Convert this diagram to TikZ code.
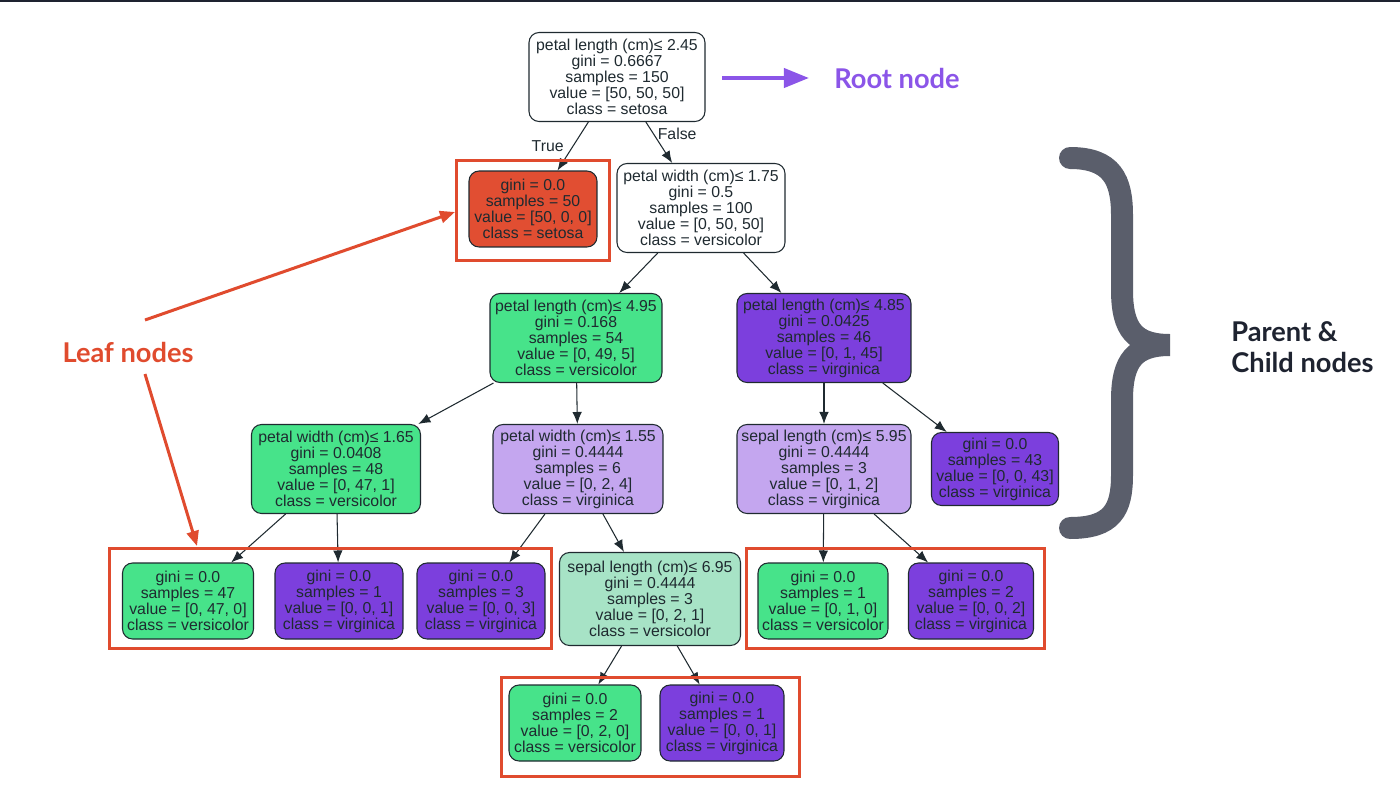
\documentclass[tikz,border=0pt]{standalone}
\usepackage{fontspec}
\usepackage{xcolor}
\usepackage{tikz}
\setmainfont{Liberation Sans}
\newfontfamily\annfont{Lato}
\usetikzlibrary{shapes,arrows,positioning,calc,arrows.meta}

\definecolor{edgec}{HTML}{1F2A30}
\definecolor{leafred}{HTML}{E04B2E}
\definecolor{rootpurple}{HTML}{8B55E8}
\definecolor{bracegray}{HTML}{5A5E6B}
\definecolor{darktxt}{HTML}{1E2330}
\definecolor{fsetosa}{HTML}{E14E32}
\definecolor{fgreen}{HTML}{47E38A}
\definecolor{fpurple}{HTML}{7C3FDD}
\definecolor{flpurple}{HTML}{C4A6EF}
\definecolor{flgreen}{HTML}{A7E3C6}

\tikzset{
    tnode/.style={draw=edgec, line width=0.6pt, rounded corners=0.2cm, align=center, inner sep=0pt, text=edgec, font=\fontsize{9}{9.1}\selectfont},
    split/.style={tnode, minimum height=1.78cm},
    leaf/.style={tnode, minimum height=1.52cm},
    edge/.style={draw=edgec, line width=0.6pt, -{Latex[length=0.24cm,width=0.19cm]}},
    elab/.style={font=\fontsize{9}{9.1}\selectfont, text=edgec, inner sep=2pt},
    redbox/.style={draw=leafred, line width=0.06cm},
    redarr/.style={draw=leafred, line width=0.06cm, -{Triangle[length=0.3cm,width=0.24cm]}},
    ann/.style={font=\annfont\bfseries\fontsize{15.5}{18}\selectfont, inner sep=0pt}
}

\begin{document}
\begin{tikzpicture}[x=0.02cm, y=-0.02cm]
    \useasboundingbox (0,0) rectangle (1400,788);
    \draw[darktxt, line width=0.03cm] (0,1) -- (1400,1);

    % Decision tree
    \node[split, fill=white, minimum width=3.52cm] (root) at (617,77) {petal length (cm)≤ 2.45\\gini = 0.6667\\samples = 150\\value = [50, 50, 50]\\class = setosa};
    \node[leaf, fill=fsetosa, minimum width=2.56cm] (setosa) at (533,209) {gini = 0.0\\samples = 50\\value = [50, 0, 0]\\class = setosa};
    \node[split, fill=white, minimum width=3.36cm] (pwa) at (701,208) {petal width (cm)≤ 1.75\\gini = 0.5\\samples = 100\\value = [0, 50, 50]\\class = versicolor};
    \node[split, fill=fgreen, minimum width=3.44cm] (pla) at (576,338) {petal length (cm)≤ 4.95\\gini = 0.168\\samples = 54\\value = [0, 49, 5]\\class = versicolor};
    \node[split, fill=fpurple, minimum width=3.48cm] (plb) at (824,338) {petal length (cm)≤ 4.85\\gini = 0.0425\\samples = 46\\value = [0, 1, 45]\\class = virginica};
    \node[split, fill=fgreen, minimum width=3.38cm] (pwb) at (336,469) {petal width (cm)≤ 1.65\\gini = 0.0408\\samples = 48\\value = [0, 47, 1]\\class = versicolor};
    \node[split, fill=flpurple, minimum width=3.40cm] (pwc) at (578,469) {petal width (cm)≤ 1.55\\gini = 0.4444\\samples = 6\\value = [0, 2, 4]\\class = virginica};
    \node[split, fill=flpurple, minimum width=3.48cm] (sla) at (824,469) {sepal length (cm)≤ 5.95\\gini = 0.4444\\samples = 3\\value = [0, 1, 2]\\class = virginica};
    \node[leaf, fill=fpurple, minimum width=2.54cm, minimum height=1.46cm] (lfg) at (995,469) {gini = 0.0\\samples = 43\\value = [0, 0, 43]\\class = virginica};
    \node[leaf, fill=fgreen, minimum width=2.62cm] (lfa) at (188,601) {gini = 0.0\\samples = 47\\value = [0, 47, 0]\\class = versicolor};
    \node[leaf, fill=fpurple, minimum width=2.56cm] (lfb) at (339,601) {gini = 0.0\\samples = 1\\value = [0, 0, 1]\\class = virginica};
    \node[leaf, fill=fpurple, minimum width=2.56cm] (lfc) at (481,601) {gini = 0.0\\samples = 3\\value = [0, 0, 3]\\class = virginica};
    \node[split, fill=flgreen, minimum width=3.62cm, minimum height=1.86cm] (slb) at (650,599) {sepal length (cm)≤ 6.95\\gini = 0.4444\\samples = 3\\value = [0, 2, 1]\\class = versicolor};
    \node[leaf, fill=fgreen, minimum width=2.60cm] (lfd) at (823,601) {gini = 0.0\\samples = 1\\value = [0, 1, 0]\\class = versicolor};
    \node[leaf, fill=fpurple, minimum width=2.50cm] (lfe) at (971,601) {gini = 0.0\\samples = 2\\value = [0, 0, 2]\\class = virginica};
    \node[leaf, fill=fgreen, minimum width=2.64cm] (lfh) at (575,723) {gini = 0.0\\samples = 2\\value = [0, 2, 0]\\class = versicolor};
    \node[leaf, fill=fpurple, minimum width=2.48cm] (lfi) at (722,723) {gini = 0.0\\samples = 1\\value = [0, 0, 1]\\class = virginica};

    % Edges
    \draw[edge] (root) -- node[left, elab, xshift=-3pt] (tlab) {True} (setosa);
    \draw[edge] (root) -- node[right, elab, pos=0.3] (flab) {False} (pwa);
    \draw[edge] (pwa) -- (pla);
    \draw[edge] (pwa) -- (plb);
    \draw[edge] (pla) -- (pwb);
    \draw[edge] (pla) -- (pwc);
    \draw[edge] (plb) -- (sla);
    \draw[edge] (plb) -- (lfg);
    \draw[edge] (pwb) -- (lfa);
    \draw[edge] (pwb) -- (lfb);
    \draw[edge] (pwc) -- (lfc);
    \draw[edge] (pwc) -- (slb);
    \draw[edge] (sla) -- (lfd);
    \draw[edge] (sla) -- (lfe);
    \draw[edge] (slb) -- (lfh);
    \draw[edge] (slb) -- (lfi);

    % Leaf boxes
    \draw[redbox] (456,160) rectangle (609,260);
    \draw[redbox] (109,548) rectangle (551,648);
    \draw[redbox] (746,548) rectangle (1044,648);
    \draw[redbox] (501,677) rectangle (799,776);

    % Root node label
    \node[ann, text=rootpurple] (roottxt) at (897,78) {Root node};
    \coordinate (rta) at (722,78);
    \draw[rootpurple, line width=0.08cm, -{Triangle[length=0.5cm,width=0.38cm]}] (rta) -- ($(roottxt.west)+(-25,0)$);

    % Leaf nodes label
    \node[ann, text=leafred] (leaftxt) at (128,352) {Leaf nodes};
    \coordinate (lua) at (145,320);
    \coordinate (lub) at (455,212);
    \coordinate (lda) at (145,374);
    \coordinate (ldb) at (197,546);
    \draw[redarr] (lua) -- (lub);
    \draw[redarr] (lda) -- (ldb);

    % Brace
    \draw[bracegray, line width=0.44cm, line cap=round]
        (1070,158) .. controls (1112,158) and (1122,180) .. (1122,215) -- (1122,290)
        .. controls (1122,330) and (1135,345) .. (1170,345)
        .. controls (1135,345) and (1122,360) .. (1122,400) -- (1122,475)
        .. controls (1122,510) and (1112,528) .. (1070,528);
    \node[ann, text=darktxt, align=left, anchor=west] (pctxt) at (1231,347) {Parent \&\\Child nodes};
\end{tikzpicture}
\end{document}
